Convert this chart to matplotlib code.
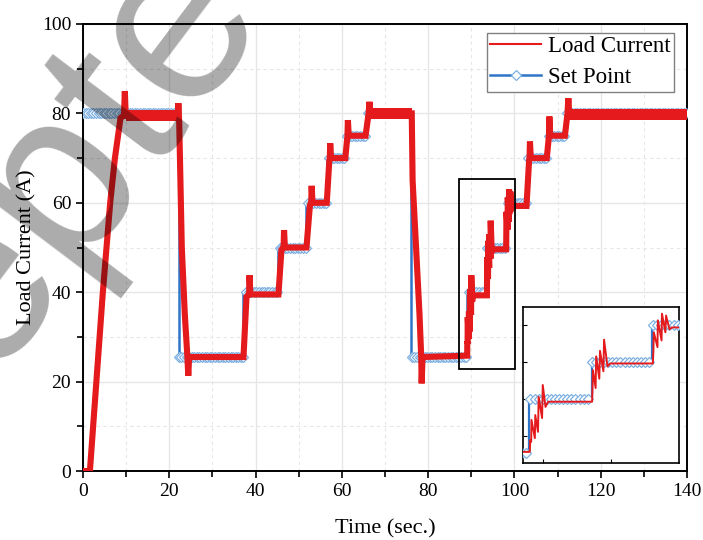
import numpy as np
import matplotlib
matplotlib.use("Agg")
import matplotlib.pyplot as plt
from matplotlib.lines import Line2D
from matplotlib.patches import Rectangle

# set point: time each level starts (s) and the level (A)
set_start = [0, 22.2, 37.2, 45.3, 51.8, 56.5, 61.0, 65.6, 76.0, 89.0, 93.6, 98.0, 102.8, 107.5, 111.8]
set_level = [80, 25.5, 40, 50, 60, 70, 75, 80, 25.5, 40, 50, 60, 70, 75, 80]
t_end = 140
sample_dt = 0.3  # set point is logged with this period

# load current, read at corners and peaks of the trace
load_t = [0, 1.6, 4.6, 6.3, 7.4, 8.7, 9.5, 9.7, 9.9, 22.0, 22.1, 22.3, 22.9, 23.6, 24.2, 24.4, 24.6,
          37.2, 37.9, 38.5, 38.6, 38.8, 45.3, 46.0, 46.5, 46.6, 46.8, 51.8, 52.6, 52.9, 53.0, 53.2,
          56.5, 57.1, 57.2, 57.3, 57.5, 60.8, 61.3, 61.4, 61.6, 65.5, 66.2, 66.4, 66.6,
          76.2, 76.4, 77.2, 78.0, 78.4, 78.5, 78.7,
          89.05, 89.08, 89.15, 89.17, 89.42, 89.45, 89.65, 89.70, 89.95, 90.0, 90.2, 90.4,
          93.62, 93.65, 93.68, 93.88, 93.92, 94.15, 94.2, 94.45, 94.5, 94.75, 94.95,
          98.08, 98.12, 98.15, 98.42, 98.45, 98.72, 98.75, 99.0, 99.05, 99.3, 99.5,
          102.8, 103.4, 103.5, 103.6, 103.8, 107.5, 108.0, 108.1, 108.3, 111.7, 112.3, 112.5, 112.7, 140]
load_i = [0, 0, 40, 60, 70, 79, 79.5, 85, 79.5, 79.5, 82.3, 78, 50, 35, 25.5, 21.3, 25.5,
          25.5, 39, 39.5, 43.8, 39.5, 39.5, 49.5, 50, 53.9, 50, 50, 59.5, 60, 63.8, 60,
          60, 69.5, 70, 73.3, 70, 70, 75, 78.5, 75, 75, 80, 82.6, 80,
          80, 65, 50, 35, 25.5, 19.6, 25.5,
          25.8, 29.0, 28.5, 34.4, 29.5, 35.7, 31.2, 40.6, 34.9, 43.8, 37.9, 39.3,
          39.3, 42.5, 47.8, 43.0, 51.5, 45.5, 53.0, 47.5, 56.0, 48.8, 49.6,
          49.6, 53.0, 58.0, 54.0, 61.2, 55.8, 63.0, 58.0, 62.5, 58.8, 59.3,
          59.3, 69.5, 70, 73.7, 70, 70, 75, 79.3, 75, 75, 80, 83.4, 79.8, 79.8]

# ripple band on the 80 A plateaus
band_t0 = [9.9, 66.6, 112.7]
band_t1 = [22.0, 76.2, 140]
band_level = [79.5, 80, 79.8]
band_half = [1.3, 1.3, 1.2]

# zoom window
zoom_x = (87.2, 100.1)
zoom_y = (22.8, 65.3)
inset_xlim = (88.55, 100)
inset_ylim = (22.8, 64.8)

red = "#e41a1c"
blue = "#2e74c8"
light = "#7fb0e2"

plt.rcParams["font.family"] = ["Liberation Serif", "DejaVu Serif"]

# step line and sampled markers of the set point
step_x = [set_start[0]]
step_y = [set_level[0]]
for k in range(1, len(set_start)):
    step_x += [set_start[k], set_start[k]]
    step_y += [set_level[k - 1], set_level[k]]
step_x.append(t_end)
step_y.append(set_level[-1])

samp_t = np.arange(0, t_end + 1e-9, sample_dt)
samp_v = np.array(set_level)[np.searchsorted(set_start, samp_t, side="right") - 1]

fig = plt.figure(figsize=(7.03, 5.40), dpi=100)
ax = fig.add_axes([83 / 703, 69 / 540, 604 / 703, 447 / 540])

ax.plot(step_x, step_y, color=blue, lw=1.8, zorder=2)
ax.plot(samp_t, samp_v, ls="none", marker="D", ms=5, mfc="white", mec=light, mew=0.9,
        markevery=2, zorder=3)
ax.plot(load_t, load_i, color=red, lw=4.4, zorder=4, solid_joinstyle="miter")
for a, b, lev, h in zip(band_t0, band_t1, band_level, band_half):
    ax.fill_between([a, b], lev - h, lev + h, color=red, lw=0, zorder=4)

ax.add_patch(Rectangle((zoom_x[0], zoom_y[0]), zoom_x[1] - zoom_x[0], zoom_y[1] - zoom_y[0],
                       fill=False, ec="black", lw=1.3, zorder=6))

ax.set_xlim(0, 140)
ax.set_ylim(0, 100)
ax.set_xticks(np.arange(0, 141, 20))
ax.set_yticks(np.arange(0, 101, 20))
ax.set_xticks(np.arange(10, 140, 20), minor=True)
ax.set_yticks(np.arange(10, 100, 20), minor=True)
ax.tick_params(which="both", direction="out", labelsize=14, width=1.2)
ax.tick_params(which="major", length=5)
ax.tick_params(which="minor", length=4)
ax.grid(which="major", color="#e6e6e6", lw=1.0)
ax.grid(which="minor", color="#e6e6e6", lw=0.8, ls=(0, (3, 3)))
ax.set_axisbelow(True)
for s in ax.spines.values():
    s.set_linewidth(1.4)
ax.set_xlabel("Time (sec.)", fontsize=16, labelpad=14)
ax.set_ylabel("Load Current (A)", fontsize=16, labelpad=4)

handles = [Line2D([], [], color=red, lw=1.5),
           Line2D([], [], color=blue, lw=1.8, marker="D", ms=5, mfc="white", mec=light, mew=0.9)]
leg = ax.legend(handles, ["Load Current", "Set Point"], loc="upper right", fontsize=16.5,
                fancybox=False, edgecolor="#808080", framealpha=1, handlelength=2.2,
                borderpad=0.15, labelspacing=0.42, handletextpad=0.3, borderaxespad=0,
                bbox_to_anchor=(0.978, 0.98))
leg.get_frame().set_linewidth(1.0)

# inset
ins = fig.add_axes([523 / 703, 77 / 540, 156 / 703, 156 / 540])
ins.plot(step_x, step_y, color=blue, lw=1.6, zorder=2)
ins.plot(samp_t, samp_v, ls="none", marker="D", ms=5, mfc="white", mec=light, mew=0.9, zorder=3)
ins.plot(load_t, load_i, color=red, lw=1.4, zorder=4)
ins.set_xlim(*inset_xlim)
ins.set_ylim(*inset_ylim)
ins.set_xticks([90, 95])
ins.set_yticks([30, 40, 50, 60])
ins.tick_params(direction="in", length=3, labelbottom=False, labelleft=False)
for s in ins.spines.values():
    s.set_linewidth(1.2)

# watermark
fig.text(-0.345, -0.296, "Accepted", rotation=53, fontsize=170, color="black", alpha=0.33,
         family="Liberation Sans", ha="left", va="baseline", rotation_mode="anchor", zorder=10)

fig.savefig("out.png", dpi=100)
